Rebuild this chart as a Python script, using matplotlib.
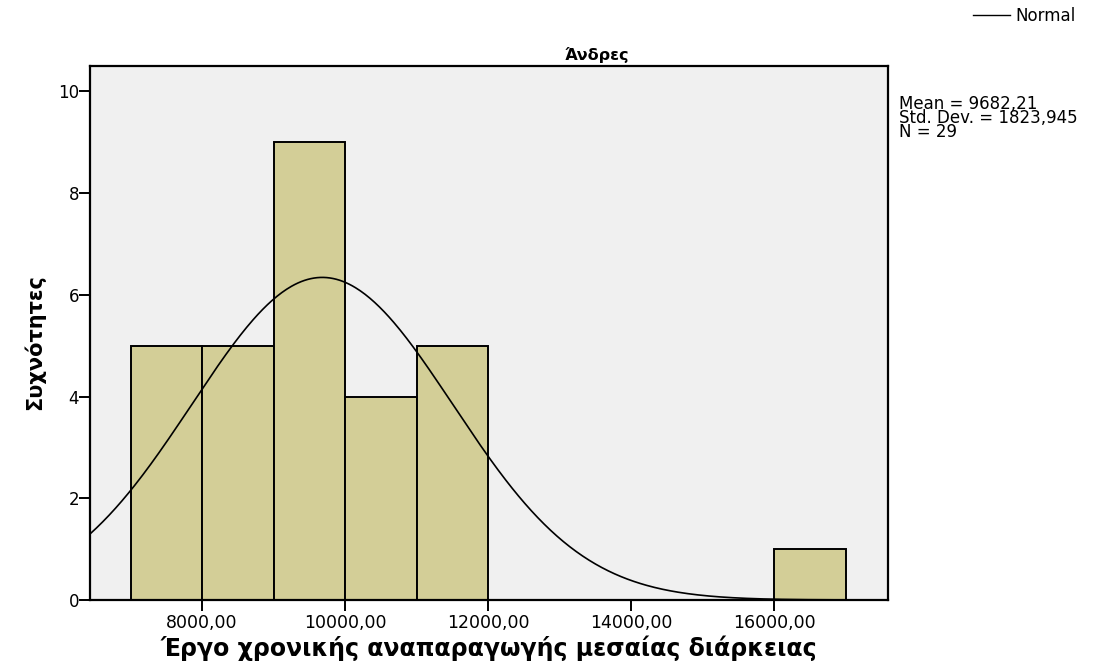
import numpy as np
import matplotlib
matplotlib.use('Agg')
import matplotlib.pyplot as plt

# Данные гистограммы (левые границы интервалов и частоты)
bin_left = [7000, 8000, 9000, 10000, 11000, 16000]
counts = [5, 5, 9, 4, 5, 1]
bin_width = 1000

# Параметры нормальной кривой (из подписи на графике)
mean = 9682.21
std = 1823.945
n = 29

x_ticks = [8000, 10000, 12000, 14000, 16000]
y_ticks = [0, 2, 4, 6, 8, 10]

plt.rcParams['font.family'] = ['DejaVu Sans']

fig = plt.figure(figsize=(11.02, 6.66), dpi=100)
ax = fig.add_axes([0.0817, 0.0991, 0.7241, 0.8018])
ax.set_facecolor('#f0f0f0')

ax.bar(bin_left, counts, width=bin_width, align='edge',
       color='#d3ce97', edgecolor='black', linewidth=1.4, zorder=2)

xmin, xmax = 6434, 17594
xs = np.linspace(xmin, xmax, 500)
ys = n * bin_width / (std * np.sqrt(2 * np.pi)) * np.exp(-0.5 * ((xs - mean) / std) ** 2)
ax.plot(xs, ys, color='black', linewidth=1.2, zorder=3)

ax.set_xlim(xmin, xmax)
ax.set_ylim(0, 10.5)
ax.set_xticks(x_ticks)
ax.set_xticklabels([f'{v},00' for v in x_ticks])
ax.set_yticks(y_ticks)
ax.tick_params(direction='out', length=8, width=1.4, labelsize=12)
ax.tick_params(axis='y', pad=0)
ax.tick_params(axis='x', labelsize=12.5, pad=2)
for s in ax.spines.values():
    s.set_linewidth(1.6)

fig.text(597 / 1102, 1 - 60 / 666, 'Άνδρες', fontsize=11.5, fontweight='bold',
         ha='center', va='baseline')
ax.set_xlabel('Έργο χρονικής αναπαραγωγής μεσαίας διάρκειας',
              fontsize=17, fontweight='bold')
ax.xaxis.set_label_coords(0.5, -0.066)
ax.set_ylabel('Συχνότητες', fontsize=15, fontweight='bold')
ax.yaxis.set_label_coords(-0.0564, 0.483)

fig.text(899 / 1102, 1 - 95 / 666, 'Mean = 9682,21\nStd. Dev. = 1823,945\nN = 29',
         fontsize=12, va='top', ha='left', linespacing=0.7)

# Легенда "Normal"
fig.lines.append(plt.Line2D([973 / 1102, 1010 / 1102], [1 - 15 / 666, 1 - 15 / 666],
                            color='black', linewidth=1.0, transform=fig.transFigure))
fig.text(1015 / 1102, 1 - 16 / 666, 'Normal', fontsize=12, va='center', ha='left')

fig.savefig('out.png', dpi=100)
